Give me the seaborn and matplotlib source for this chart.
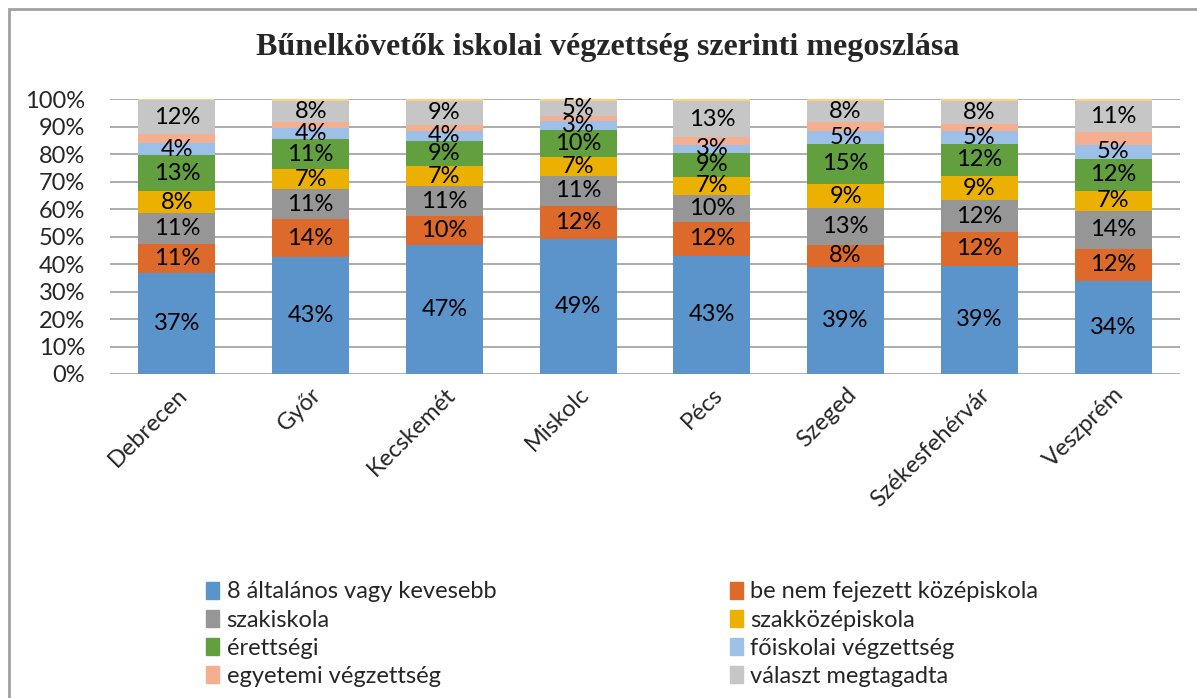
import matplotlib
matplotlib.use("Agg")
import matplotlib.pyplot as plt
import matplotlib.patches as mpatches
import seaborn as sns
import numpy as np
import pandas as pd

cities = ["Debrecen", "Győr", "Kecskemét", "Miskolc", "Pécs", "Szeged", "Székesfehérvár", "Veszprém"]

series_names = ["8 általános vagy kevesebb", "be nem fejezett középiskola", "szakiskola",
                "szakközépiskola", "érettségi", "főiskolai végzettség",
                "egyetemi végzettség", "választ megtagadta"]

altalanos8 = [36.6, 42.6, 47.0, 49.1, 43.1, 39.1, 39.4, 33.9]
be_nem_fejezett = [10.9, 13.8, 10.4, 12.1, 12.4, 7.9, 12.3, 11.6]
szakiskola = [11.1, 10.9, 11.1, 11.0, 9.7, 13.4, 11.6, 14.0]
szakkozep = [7.9, 7.2, 7.1, 6.8, 6.6, 8.7, 8.8, 7.2]
erettsegi = [13.2, 10.9, 9.2, 9.8, 8.6, 14.7, 11.8, 11.7]
foiskolai = [4.3, 4.0, 3.7, 3.3, 3.1, 4.7, 4.6, 5.0]
egyetemi = [3.2, 2.4, 2.1, 1.8, 2.6, 3.2, 2.5, 4.7]
megtagadta = [12.4, 7.6, 8.9, 5.4, 13.4, 7.8, 8.4, 11.4]
egyeb = [0.4, 0.6, 0.5, 0.7, 0.5, 0.5, 0.6, 0.5]

series = [altalanos8, be_nem_fejezett, szakiskola, szakkozep, erettsegi, foiskolai, egyetemi, megtagadta, egyeb]
colors = ["#5B93CB", "#DD6A2B", "#969696", "#EBB000", "#62A03F", "#9DC0E8", "#F4AE90", "#C6C6C6", "#FFD27A"]
labeled = [True, True, True, True, True, True, False, True, False]

sns.set_theme(style="white")
plt.rcParams["font.family"] = ["Lato", "DejaVu Sans"]

FS = 17

fig = plt.figure(figsize=(11.97, 6.98), dpi=100)
ax = fig.add_axes([110 / 1197, 1 - 374 / 698, 1070 / 1197, (374 - 99.3) / 698])

data = np.array(series)
cum = np.cumsum(data, axis=0)

# draw from the top cumulative down so each level shows its segment
for k in range(len(series) - 1, -1, -1):
    df = pd.DataFrame({"city": cities, "val": cum[k]})
    sns.barplot(data=df, x="city", y="val", color=colors[k], saturation=1,
                width=0.576, ax=ax, zorder=3, linewidth=0)

for k in range(len(series)):
    if not labeled[k]:
        continue
    for i in range(len(cities)):
        v = data[k, i]
        ymid = cum[k, i] - v / 2
        ax.text(i, ymid, f"{v:.0f}%", ha="center", va="center", fontsize=FS,
                color="black", zorder=5)

ax.set_ylim(0, 100)
ax.set_xlim(-0.5, len(cities) - 0.5)
ax.set_yticks(np.arange(0, 101, 10))
ax.set_yticklabels([f"{t}%" for t in range(0, 101, 10)], fontsize=FS)
ax.yaxis.grid(True, color="#A6A6A6", linewidth=1.3, zorder=0)
ax.set_axisbelow(True)
ax.tick_params(axis="y", length=0, pad=18)
ax.tick_params(axis="x", length=0, pad=7)
ax.set_xticks(range(len(cities)))
ax.set_xticklabels(cities, rotation=45, ha="right", rotation_mode="anchor", fontsize=FS)
ax.set_xlabel("")
ax.set_ylabel("")
for s in ax.spines.values():
    s.set_visible(False)

fig.text(0.508, 1 - 48 / 698, "Bűnelkövetők iskolai végzettség szerinti megoszlása",
         ha="center", va="center", fontsize=23, fontweight="bold",
         family=["Liberation Serif", "DejaVu Serif"])

handles = [mpatches.Patch(color=colors[k], label=series_names[k]) for k in range(8)]
order = [0, 2, 4, 6, 1, 3, 5, 7]
leg = fig.legend([handles[k] for k in order], [series_names[k] for k in order],
                 ncol=2, loc="upper left", bbox_to_anchor=(197 / 1197, 1 - 572 / 698),
                 frameon=False, fontsize=FS, handlelength=0.55, handleheight=0.75,
                 handletextpad=0.3, columnspacing=9.9, labelspacing=0.3,
                 borderaxespad=0)

border = mpatches.Rectangle((9 / 1197, -0.02), 1.05, 1 - 9 / 698 + 0.02,
                            transform=fig.transFigure, fill=False,
                            edgecolor="#A0A0A0", linewidth=2, zorder=10)
fig.patches.append(border)

fig.savefig("out.png", dpi=100, facecolor="white")
